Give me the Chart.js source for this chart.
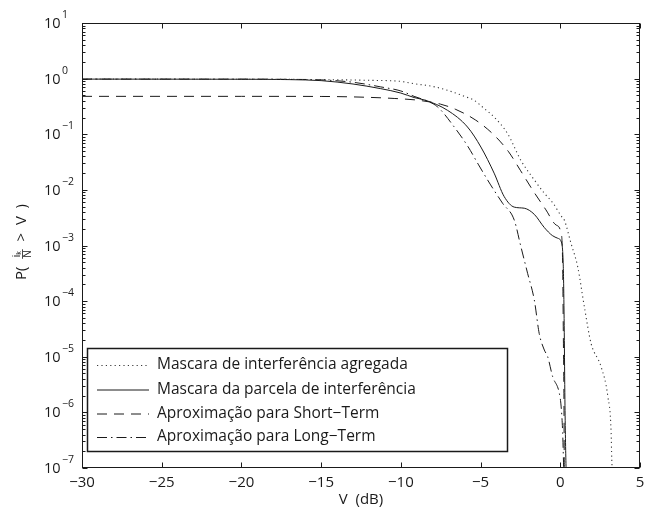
<!DOCTYPE html>
<html>
<head>
<meta charset="utf-8">
<script src="https://cdn.jsdelivr.net/npm/chart.js@4.4.1/dist/chart.umd.min.js"></script>
<style>
  html, body { margin: 0; padding: 0; background: #fff; }
  #wrap { width: 655px; height: 514px; }
</style>
</head>
<body>
<div id="wrap"><canvas id="c" width="655" height="514"></canvas></div>
<script>
// ---------- data ----------
const X_TICKS = [-30, -25, -20, -15, -10, -5, 0, 5];
const X_TICK_LABELS = ['\u221230', '\u221225', '\u221220', '\u221215', '\u221210', '\u22125', '0', '5'];
const Y_TICK_EXPONENTS = [1, 0, -1, -2, -3, -4, -5, -6, -7];
const Y_TICK_BASE = '10';

const SERIES_LABELS = [
  'Mascara de interferência agregada',
  'Mascara da parcela de interferência',
  'Aproximação para Short\u2212Term',
  'Aproximação para Long\u2212Term'
];

// Mascara de interferência agregada (dotted)
const V_AGG = [-30, -25, -20, -15, -12, -10, -9.2, -8, -7.07, -6, -5.4, -4.8, -4.15, -3.3, -2.47, -1.63, -1.0, -0.45, 0.05, 0.25, 0.67, 1.09, 1.51, 1.93, 2.56, 2.98, 3.19, 3.23, 3.27];
const P_AGG = [0.98, 0.978, 0.975, 0.96, 0.933, 0.891, 0.813, 0.724, 0.617, 0.479, 0.407, 0.295, 0.204, 0.102, 0.0339, 0.0151, 0.0087, 0.00575, 0.0034, 0.00288, 0.0011, 4.17e-4, 7.9e-5, 1.74e-5, 6.6e-6, 1.95e-6, 4.3e-7, 1.4e-7, 8.5e-8];

// Mascara da parcela de interferência (solid)
const V_PARC = [-30, -25, -20, -17, -15, -13, -11.26, -10, -9.17, -8.44, -7.07, -5.82, -4.98, -4.15, -3.52, -2.89, -2.26, -1.63, -1.0, -0.5, -0.16, 0.1, 0.18, 0.21, 0.25, 0.29, 0.36, 0.38];
const P_PARC = [0.98, 0.978, 0.975, 0.96, 0.92, 0.8, 0.66, 0.55, 0.457, 0.407, 0.269, 0.135, 0.0589, 0.02, 0.00759, 0.0049, 0.00468, 0.00363, 0.0021, 0.00151, 0.00135, 0.00107, 5e-4, 2.1e-4, 2.7e-5, 1.7e-6, 1.07e-7, 8e-8];

// Aproximação para Short-Term (dashed)
const V_SHORT = [-30, -25, -20, -15, -12.5, -10.42, -8.96, -7.5, -6.55, -5.3, -4.15, -3.24, -2.51, -1.67, -0.9, -0.27, 0.05, 0.15, 0.19, 0.23, 0.25, 0.26];
const P_SHORT = [0.48, 0.48, 0.48, 0.478, 0.465, 0.44, 0.41, 0.347, 0.279, 0.179, 0.0964, 0.0483, 0.0226, 0.0093, 0.00437, 0.00234, 0.00166, 4.2e-4, 2.7e-5, 1.7e-6, 1.07e-7, 8e-8];

// Aproximação para Long-Term (dash-dot)
const V_LONG = [-30, -25, -20, -17, -15, -13, -11.26, -10, -9.17, -8.4, -7.7, -6.66, -5.78, -5.15, -4.4, -3.62, -2.89, -2.47, -2.05, -1.63, -1.32, -1.0, -0.79, -0.48, -0.06, 0.05, 0.15, 0.21, 0.23];
const P_LONG = [0.98, 0.978, 0.978, 0.97, 0.95, 0.86, 0.71, 0.6, 0.48, 0.4, 0.311, 0.136, 0.0594, 0.029, 0.0127, 0.00575, 0.00288, 9.5e-4, 3.16e-4, 1.05e-4, 2.6e-5, 1.32e-5, 1e-5, 4.4e-6, 2.2e-6, 1.3e-6, 4.3e-7, 1.07e-7, 8e-8];

const X_TITLE = 'V  (dB)';

// ---------- chart ----------
const FONT = '"Open Sans", "Liberation Sans", sans-serif';
const INK = '#1a1a1a';

function pts(xs, ys) { return xs.map((x, i) => ({ x: x, y: ys[i] })); }

const datasets = [
  { label: SERIES_LABELS[0], data: pts(V_AGG, P_AGG), borderColor: '#3a3a3a', borderWidth: 1.1, borderDash: [1.2, 3.2] },
  { label: SERIES_LABELS[1], data: pts(V_PARC, P_PARC), borderColor: INK, borderWidth: 1, borderDash: [] },
  { label: SERIES_LABELS[2], data: pts(V_SHORT, P_SHORT), borderColor: INK, borderWidth: 1, borderDash: [10, 7] },
  { label: SERIES_LABELS[3], data: pts(V_LONG, P_LONG), borderColor: INK, borderWidth: 1, borderDash: [10, 4, 1.5, 4] }
].map(d => Object.assign(d, { pointRadius: 0, fill: false, cubicInterpolationMode: 'monotone' }));

const decorPlugin = {
  id: 'matlabDecor',
  afterDraw(chart) {
    const ctx = chart.ctx;
    const xs = chart.scales.x, ys = chart.scales.y;
    const a = chart.chartArea;
    ctx.save();

    // ----- legend -----
    const lx0 = 87, ly0 = 348, lx1 = 508, ly1 = 452;
    ctx.fillStyle = '#fff';
    ctx.fillRect(lx0, ly0, lx1 - lx0, ly1 - ly0);
    ctx.strokeStyle = INK;
    ctx.lineWidth = 1.5;
    ctx.setLineDash([]);
    ctx.strokeRect(lx0 + 0.5, ly0 + 0.5, lx1 - lx0 - 1, ly1 - ly0 - 1);
    const rowY = [365, 389.5, 413.5, 437];
    ctx.font = '15.5px ' + FONT;
    ctx.textBaseline = 'middle';
    ctx.textAlign = 'left';
    chart.data.datasets.forEach((d, i) => {
      ctx.strokeStyle = d.borderColor;
      ctx.lineWidth = d.borderWidth;
      ctx.setLineDash(d.borderDash || []);
      ctx.beginPath();
      ctx.moveTo(97, rowY[i] + 0.5);
      ctx.lineTo(149, rowY[i] + 0.5);
      ctx.stroke();
      ctx.setLineDash([]);
      ctx.fillStyle = INK;
      ctx.fillText(d.label, 157, rowY[i]);
    });

    // ----- frame -----
    ctx.setLineDash([]);
    ctx.strokeStyle = INK;
    ctx.lineWidth = 1;
    const L = Math.round(a.left) + 0.5, R = Math.round(a.right) - 0.5;
    const T = Math.round(a.top) + 0.5, B = Math.round(a.bottom) - 0.5;
    ctx.strokeRect(L, T, R - L, B - T);

    // ----- x ticks (inward, bottom & top) -----
    ctx.beginPath();
    X_TICKS.forEach(v => {
      const px = Math.round(xs.getPixelForValue(v)) + 0.5;
      ctx.moveTo(px, B); ctx.lineTo(px, B - 5);
      ctx.moveTo(px, T); ctx.lineTo(px, T + 5);
    });
    // ----- y ticks (major + minor, left & right) -----
    Y_TICK_EXPONENTS.forEach(e => {
      const py = Math.round(ys.getPixelForValue(Math.pow(10, e))) + 0.5;
      ctx.moveTo(L, py); ctx.lineTo(L + 5, py);
      ctx.moveTo(R, py); ctx.lineTo(R - 5, py);
      if (e < 1) {
        for (let m = 2; m <= 9; m++) {
          const q = Math.round(ys.getPixelForValue(m * Math.pow(10, e))) + 0.5;
          ctx.moveTo(L, q); ctx.lineTo(L + 3, q);
          ctx.moveTo(R, q); ctx.lineTo(R - 3, q);
        }
      }
    });
    ctx.stroke();

    // ----- x tick labels -----
    ctx.fillStyle = INK;
    ctx.font = '15px ' + FONT;
    ctx.textAlign = 'center';
    ctx.textBaseline = 'middle';
    X_TICKS.forEach((v, i) => {
      ctx.fillText(X_TICK_LABELS[i], xs.getPixelForValue(v), 483);
    });

    // ----- y tick labels (10 with superscript) -----
    Y_TICK_EXPONENTS.forEach(e => {
      const py = ys.getPixelForValue(Math.pow(10, e));
      ctx.font = '14.5px ' + FONT;
      ctx.textAlign = 'left';
      ctx.textBaseline = 'alphabetic';
      ctx.fillText(Y_TICK_BASE, 44, py + 5);
      const w = ctx.measureText(Y_TICK_BASE).width;
      ctx.font = '10.5px ' + FONT;
      const sup = e < 0 ? '\u2212' + Math.abs(e) : String(e);
      ctx.fillText(sup, 44 + w + 1.5, py - 5);
    });

    // ----- x title -----
    ctx.font = '15px ' + FONT;
    ctx.textAlign = 'center';
    ctx.textBaseline = 'middle';
    ctx.fillText(X_TITLE, (a.left + a.right) / 2, 500);

    // ----- y title: P( i_k / N > V ) -----
    ctx.save();
    ctx.translate(22, 242);
    ctx.rotate(-Math.PI / 2);
    ctx.textBaseline = 'middle';
    ctx.textAlign = 'left';
    const p1 = 'P(  ';
    const p3 = '  >  V  )';
    ctx.font = '10px ' + FONT;
    const iw = ctx.measureText('i').width;
    const numW = iw + 5;
    const denW = ctx.measureText('N').width;
    const fracW = Math.max(numW, denW) + 2;
    ctx.font = '15px ' + FONT;
    const w1 = ctx.measureText(p1).width, w3 = ctx.measureText(p3).width;
    const total = w1 + fracW + w3;
    let x0 = -total / 2;
    ctx.fillText(p1, x0, 0);
    x0 += w1;
    // fraction
    ctx.font = '10px ' + FONT;
    ctx.fillText('i', x0 + 1.5, -5);
    ctx.font = '7px ' + FONT;
    ctx.fillText('k', x0 + 1.5 + iw, -3.5);
    ctx.font = '10px ' + FONT;
    ctx.fillText('N', x0 + (fracW - denW) / 2, 6);
    ctx.lineWidth = 0.8;
    ctx.beginPath();
    ctx.moveTo(x0, 0.5); ctx.lineTo(x0 + fracW, 0.5);
    ctx.stroke();
    x0 += fracW;
    ctx.font = '15px ' + FONT;
    ctx.fillText(p3, x0, 0);
    ctx.restore();

    ctx.restore();
  }
};

new Chart(document.getElementById('c'), {
  type: 'line',
  data: { datasets: datasets },
  options: {
    responsive: false,
    devicePixelRatio: 1,
    animation: false,
    layout: { padding: { left: 82, right: 15, top: 23, bottom: 46 } },
    plugins: { legend: { display: false }, tooltip: { enabled: false } },
    scales: {
      x: { type: 'linear', min: -30, max: 5, display: false },
      y: { type: 'logarithmic', min: 1e-7, max: 10, display: false }
    }
  },
  plugins: [decorPlugin]
});
</script>
</body>
</html>
